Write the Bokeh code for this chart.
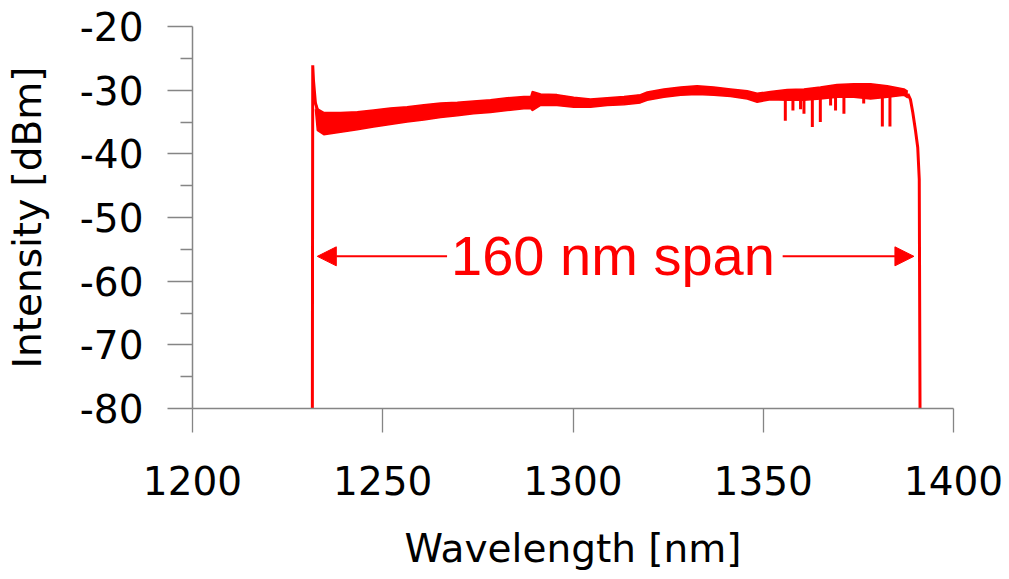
from bokeh.plotting import figure
from bokeh.models import FixedTicker, Arrow, NormalHead, Range1d, CustomJSTickFormatter
from bokeh.core.properties import value
from bokeh.embed import file_html
from bokeh.resources import INLINE

# ---------------- data ----------------
# noisy emission band: wavelength [nm], upper and lower envelope [dBm]
band_wl = [1232.3, 1232.8, 1234.5, 1238.9, 1243.3, 1247.6, 1252.0, 1256.4, 1260.8,
           1265.2, 1269.6, 1273.9, 1278.3, 1282.7, 1287.1, 1288.9, 1289.3, 1291.5,
           1295.8, 1300.2, 1304.6, 1309.0, 1313.4, 1317.7, 1319.5, 1323.9, 1328.3,
           1332.6, 1337.0, 1341.4, 1345.8, 1348.4, 1351.9, 1356.3, 1360.7, 1365.0,
           1369.4, 1373.8, 1378.2, 1382.6, 1387.0, 1388.0]
band_upper = [-31.8, -32.9, -33.5, -33.5, -33.4, -33.1, -32.8, -32.6, -32.3,
              -32.0, -31.9, -31.7, -31.5, -31.2, -31.0, -31.0, -30.2, -30.6,
              -30.7, -31.1, -31.4, -31.2, -31.0, -30.7, -30.3, -29.8, -29.5,
              -29.3, -29.5, -29.8, -30.1, -30.5, -30.2, -29.9, -29.8, -29.5,
              -29.1, -29.0, -29.0, -29.3, -29.8, -30.2]
band_lower = [-33.0, -36.3, -37.0, -36.6, -36.2, -35.8, -35.4, -35.0, -34.7,
              -34.3, -34.0, -33.7, -33.5, -33.2, -32.9, -32.9, -33.2, -32.4,
              -32.4, -32.7, -32.7, -32.4, -32.3, -32.0, -31.6, -31.1, -30.8,
              -30.7, -30.8, -31.0, -31.4, -31.9, -31.5, -31.6, -31.6, -31.4,
              -31.1, -31.1, -31.4, -31.1, -30.8, -31.2]

# rising (short-wavelength) edge with its spike
left_edge_wl = [1231.5, 1231.6, 1231.8, 1232.3, 1232.8]
left_edge_db = [-80.0, -26.1, -28.5, -32.0, -33.0]

# falling (long-wavelength) edge
right_edge_wl = [1388.0, 1388.7, 1389.3, 1390.0, 1390.6, 1391.0, 1391.2]
right_edge_db = [-30.6, -31.5, -33.5, -36.3, -39.0, -44.0, -80.0]

# narrow absorption dips in the long-wavelength part
dip_wl = [1355.8, 1357.8, 1359.8, 1360.7, 1362.9, 1365.0, 1367.7, 1369.0,
          1371.2, 1376.4, 1381.3, 1383.3]
dip_top = [-31.0, -31.0, -31.0, -31.0, -31.0, -30.8, -30.6, -30.5,
           -30.5, -30.6, -30.6, -30.6]
dip_db = [-34.8, -33.2, -33.0, -33.7, -35.8, -35.0, -32.4, -33.2,
          -33.7, -32.1, -35.7, -35.7]

# axes
x_ticks = [1200, 1250, 1300, 1350, 1400]
y_ticks = [-80, -70, -60, -50, -40, -30, -20]
y_minor_ticks = [-75, -65, -55, -45, -35, -25]

# annotation
span_label = "160 nm span"
span_start = 1231.5
span_end = 1391.2
span_level = -56.1
label_x = 1310.5
label_y = -56.0
label_left_end = 1266.9
label_right_start = 1355.1
head_gap = 1.3

RED = "#ff0000"
AXIS = "#858585"
FONT = "DejaVu Sans"

p = figure(width=1009, height=579,
           x_range=Range1d(1200, 1400), y_range=Range1d(-80, -20),
           output_backend="svg", toolbar_location=None,
           min_border_left=192, min_border_right=56,
           min_border_top=26, min_border_bottom=171)

p.background_fill_color = "white"
p.border_fill_color = "white"
p.outline_line_color = None
p.xgrid.grid_line_color = None
p.ygrid.grid_line_color = None

# spectrum
p.varea(x=band_wl, y1=band_lower, y2=band_upper, fill_color=RED)
p.line(band_wl, band_upper, line_color=RED, line_width=1.5)
p.line(band_wl, band_lower, line_color=RED, line_width=1.5)
p.line(left_edge_wl, left_edge_db, line_color=RED, line_width=3)
p.line(right_edge_wl, right_edge_db, line_color=RED, line_width=3)
p.segment(x0=dip_wl, y0=dip_top, x1=dip_wl, y1=dip_db, line_color=RED, line_width=3)

# span annotation
p.add_layout(Arrow(end=NormalHead(size=19, fill_color=RED, line_color=RED, line_width=1),
                   x_start=label_left_end, y_start=span_level,
                   x_end=span_start + head_gap, y_end=span_level,
                   line_color=RED, line_width=2))
p.add_layout(Arrow(end=NormalHead(size=19, fill_color=RED, line_color=RED, line_width=1),
                   x_start=label_right_start, y_start=span_level,
                   x_end=span_end - 1.6, y_end=span_level,
                   line_color=RED, line_width=2))
p.text(x=[label_x], y=[label_y], text=[span_label],
       text_font=value("Liberation Sans"), text_font_size="56px",
       text_color=RED, text_align="center", text_baseline="alphabetic")

# axes styling
xa = p.xaxis[0]
ya = p.yaxis[0]
xa.ticker = FixedTicker(ticks=x_ticks, minor_ticks=[])
ya.ticker = FixedTicker(ticks=y_ticks, minor_ticks=y_minor_ticks)
xa.formatter = CustomJSTickFormatter(code="return tick.toFixed(0);")
ya.formatter = CustomJSTickFormatter(code="return tick.toFixed(0);")
xa.axis_label = "Wavelength [nm]"
ya.axis_label = "Intensity [dBm]"
for ax in (xa, ya):
    ax.axis_line_color = AXIS
    ax.axis_line_width = 1.5
    ax.major_tick_line_color = AXIS
    ax.major_tick_line_width = 1.3
    ax.minor_tick_line_color = AXIS
    ax.minor_tick_line_width = 1.3
    ax.major_tick_in = 0
    ax.minor_tick_in = 0
    ax.major_label_text_font = FONT
    ax.major_label_text_font_size = "39px"
    ax.major_label_text_color = "black"
    ax.axis_label_text_font = FONT
    ax.axis_label_text_font_size = "39px"
    ax.axis_label_text_font_style = "normal"
    ax.axis_label_text_color = "black"
xa.major_tick_out = 24
xa.minor_tick_out = 0
ya.major_tick_out = 25
ya.minor_tick_out = 12
xa.major_label_standoff = 33
ya.major_label_standoff = 24
xa.axis_label_standoff = 28
ya.axis_label_standoff = 27

open("out.html", "w").write(file_html(p, INLINE))
